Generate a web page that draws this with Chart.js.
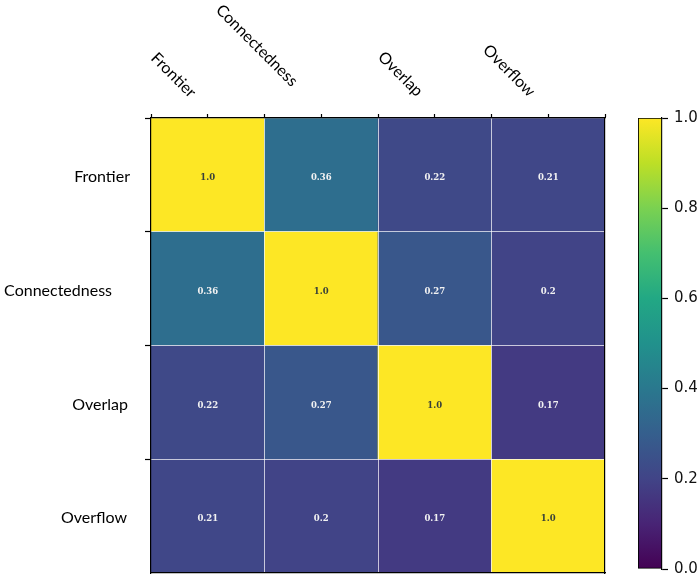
<!DOCTYPE html>
<html>
<head>
<meta charset="utf-8">
<script src="https://cdn.jsdelivr.net/npm/chart.js@4.4.1/dist/chart.umd.min.js"></script>
<style>
  html, body { margin: 0; padding: 0; background: #fff; overflow: hidden; }
  #wrap { position: relative; width: 700px; height: 584px; }
  #heat { position: absolute; left: 0; top: 0; }
  #cbar { position: absolute; left: 620px; top: 0; }
</style>
</head>
<body>
<div id="wrap">
  <canvas id="heat" width="620" height="584"></canvas>
  <canvas id="cbar" width="80" height="584"></canvas>
</div>
<script>
// ================= DATA =================
const labels = ["Frontier", "Connectedness", "Overlap", "Overflow"];
const corrFrontier      = [1.0, 0.36, 0.22, 0.21];
const corrConnectedness = [0.36, 1.0, 0.27, 0.2];
const corrOverlap       = [0.22, 0.27, 1.0, 0.17];
const corrOverflow      = [0.21, 0.2, 0.17, 1.0];
const rows = [corrFrontier, corrConnectedness, corrOverlap, corrOverflow];
const colorbarMin = 0.0;
const colorbarMax = 1.0;
const colorbarStep = 0.2;

// viridis stops, 0.0 .. 1.0
const viridis = ["#440154", "#482475", "#414487", "#355f8d", "#2a788e", "#21918c",
                 "#22a884", "#44bf70", "#7ad151", "#bddf26", "#fde725"];

// text layout (pixels)
const rowLabelRight = [130, 112, 128, 127];
const colLabelAnchor = [[150, 59], [215, 11], [377, 58], [482, 51]];

function hexToRgb(h) {
  return [parseInt(h.slice(1, 3), 16), parseInt(h.slice(3, 5), 16), parseInt(h.slice(5, 7), 16)];
}

function viridisColor(v) {
  const t = Math.max(0, Math.min(1, (v - colorbarMin) / (colorbarMax - colorbarMin))) * (viridis.length - 1);
  const i = Math.min(Math.floor(t), viridis.length - 2);
  const f = t - i;
  const a = hexToRgb(viridis[i]), b = hexToRgb(viridis[i + 1]);
  const c = a.map((x, k) => Math.round(x + (b[k] - x) * f));
  return `rgb(${c[0]},${c[1]},${c[2]})`;
}

function fmt(v) {
  return Number.isInteger(v) ? v.toFixed(1) : String(v);
}

// ================= HEATMAP =================
const cells = [];
const cellColors = [];
rows.forEach((row, r) => {
  row.forEach((v, c) => {
    cells.push({ x: c + 0.5, y: [r, r + 1], v });
    cellColors.push(viridisColor(v));
  });
});

const labelPlugin = {
  id: "heatLabels",
  afterDraw(chart) {
    const ctx = chart.ctx;
    const yScale = chart.scales.y;
    ctx.save();

    // values in cells
    const meta = chart.getDatasetMeta(0);
    ctx.font = 'bold 8.5px "DejaVu Serif"';
    ctx.textAlign = "center";
    ctx.textBaseline = "middle";
    meta.data.forEach((el, i) => {
      const p = el.getCenterPoint();
      const v = cells[i].v;
      ctx.fillStyle = v > 0.5 ? "#38403a" : "#f2f2f2";
      ctx.fillText(fmt(v), p.x, p.y + 3);
    });

    // row labels on the left
    ctx.font = '16px Lato';
    ctx.fillStyle = "#000";
    ctx.textAlign = "right";
    labels.forEach((name, i) => {
      ctx.fillText(name, rowLabelRight[i], yScale.getPixelForValue(i + 0.5) + 2);
    });

    // column labels on top, slanted
    ctx.textAlign = "left";
    ctx.textBaseline = "alphabetic";
    labels.forEach((name, i) => {
      ctx.save();
      ctx.translate(colLabelAnchor[i][0], colLabelAnchor[i][1]);
      ctx.rotate(Math.PI / 4);
      ctx.fillText(name, 0, 0);
      ctx.restore();
    });
    ctx.restore();
  }
};

const tickVal = ctx => (ctx.tick ? ctx.tick.value : -1);
const isInner = ctx => {
  const v = tickVal(ctx);
  return Number.isInteger(v) && v > 0 && v < 4;
};
const cellLine = "rgba(255,255,255,0.7)";

new Chart(document.getElementById("heat"), {
  type: "bar",
  data: {
    datasets: [{
      data: cells,
      backgroundColor: cellColors,
      borderWidth: 0,
      grouped: false,
      barPercentage: 1,
      categoryPercentage: 1
    }]
  },
  options: {
    responsive: false,
    animation: false,
    layout: { padding: { left: 0, top: 0, right: 15, bottom: 11 } },
    plugins: { legend: { display: false }, tooltip: { enabled: false } },
    scales: {
      x: {
        type: "linear", min: 0, max: 4, display: false, offset: false,
        ticks: { stepSize: 1 },
        grid: { offset: false }
      },
      xTop: {
        type: "linear", position: "top", min: 0, max: 4, offset: false,
        ticks: { stepSize: 0.5, display: false },
        grid: {
          z: 1, offset: false,
          color: ctx => isInner(ctx) ? cellLine : "rgba(0,0,0,0)",
          tickColor: "#000", tickLength: 4, tickWidth: 1.2, lineWidth: 1
        },
        border: { color: "#000", width: 1.2, z: 2 },
        afterFit: s => { s.height = 118; }
      },
      xBottom: {
        type: "linear", position: "bottom", min: 0, max: 4, offset: false,
        ticks: { display: false },
        grid: { display: false, drawTicks: false, offset: false },
        border: { color: "#000", width: 1.2, z: 2 },
        afterFit: s => { s.height = 0; }
      },
      y: {
        type: "linear", position: "left", min: 0, max: 4, reverse: true,
        ticks: { stepSize: 1, display: false },
        grid: {
          z: 1,
          color: ctx => isInner(ctx) ? cellLine : "rgba(0,0,0,0)",
          tickColor: ctx => (tickVal(ctx) >= 0 && tickVal(ctx) < 4) ? "#000" : "rgba(0,0,0,0)",
          tickLength: 6, tickWidth: 1.2, lineWidth: 1
        },
        border: { color: "#000", width: 1.2, z: 2 },
        afterFit: s => { s.width = 151; }
      },
      yRight: {
        type: "linear", position: "right", min: 0, max: 4,
        ticks: { display: false },
        grid: { display: false, drawTicks: false },
        border: { color: "#000", width: 1.2, z: 2 },
        afterFit: s => { s.width = 0; }
      }
    }
  },
  plugins: [labelPlugin]
});

// ================= COLORBAR =================
new Chart(document.getElementById("cbar"), {
  type: "bar",
  data: {
    labels: [""],
    datasets: [{
      data: [[colorbarMin, colorbarMax]],
      backgroundColor: ctx => {
        const area = ctx.chart.chartArea;
        if (!area) return null;
        const g = ctx.chart.ctx.createLinearGradient(0, area.bottom, 0, area.top);
        viridis.forEach((c, i) => g.addColorStop(i / (viridis.length - 1), c));
        return g;
      },
      borderColor: "#000",
      borderWidth: 1.2,
      borderSkipped: false,
      barPercentage: 1,
      categoryPercentage: 1
    }]
  },
  options: {
    responsive: false,
    animation: false,
    layout: { padding: { left: 18, top: 118, right: 0, bottom: 11 } },
    plugins: { legend: { display: false }, tooltip: { enabled: false } },
    scales: {
      x: { display: false },
      y: {
        position: "right", min: colorbarMin, max: colorbarMax,
        ticks: {
          stepSize: colorbarStep, padding: 6, color: "#111",
          font: { family: "DejaVu Sans", size: 15 },
          callback: v => v.toFixed(1)
        },
        grid: { drawOnChartArea: false, tickLength: 6, tickColor: "#000", tickWidth: 1.2 },
        border: { color: "#000", width: 1.2 },
        afterFit: s => { s.width = 38; }
      }
    }
  }
});
</script>
</body>
</html>
